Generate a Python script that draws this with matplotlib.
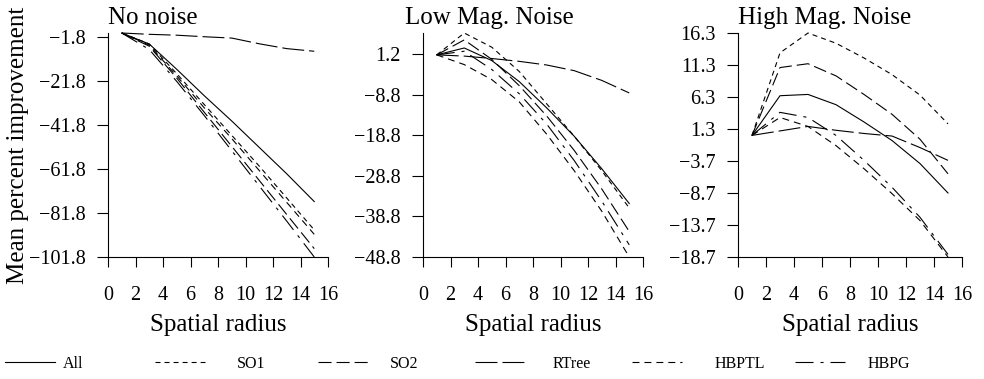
import numpy as np
import matplotlib
matplotlib.use("Agg")
import matplotlib.pyplot as plt

plt.rcParams["font.family"] = ["Liberation Serif", "DejaVu Serif"]
plt.rcParams["lines.scale_dashes"] = False

radius = [1, 3, 5, 7, 9, 11, 13, 15]
methods = ["All", "SO1", "SO2", "RTree", "HBPTL", "HBPG"]
panel_titles = ["No noise", "Low Mag. Noise", "High Mag. Noise"]
xticks = [0, 2, 4, 6, 8, 10, 12, 14, 16]

# rows follow the order of `methods`
no_noise = [
    [0, -5.0, -16.5, -28.5, -40.0, -52.0, -64.0, -76.6],
    [0, -5.0, -18.5, -32.5, -46.5, -60.5, -75.0, -89.5],
    [0, -6.0, -20.5, -36.0, -51.5, -67.0, -82.5, -98.0],
    [0, -0.6, -1.0, -1.7, -2.3, -4.9, -7.1, -8.3],
    [0, -5.5, -19.5, -34.0, -48.0, -62.5, -77.0, -91.5],
    [0, -7.5, -22.0, -37.5, -53.5, -69.5, -85.5, -101.8],
]
low_noise = [
    [1.1, 2.8, -0.3, -5.5, -12.0, -19.0, -27.0, -35.6],
    [1.1, 6.5, 3.0, -3.0, -11.0, -19.0, -27.5, -36.7],
    [1.1, 4.8, 0.0, -6.5, -14.0, -22.5, -32.0, -42.5],
    [1.1, 0.8, 0.2, -0.5, -1.4, -2.8, -5.2, -8.3],
    [1.1, -1.3, -5.0, -10.5, -18.5, -27.5, -37.5, -48.8],
    [1.1, 2.0, -2.5, -8.5, -16.0, -25.0, -35.0, -45.8],
]
high_noise = [
    [0.3, 6.5, 6.7, 5.1, 2.4, -0.5, -4.1, -8.7],
    [0.3, 13.2, 16.3, 14.7, 12.4, 9.8, 6.6, 2.1],
    [0.3, 10.9, 11.5, 9.6, 6.7, 3.6, -0.3, -5.7],
    [0.3, 1.0, 1.7, 1.1, 0.6, 0.2, -1.6, -3.6],
    [0.3, 3.1, 1.7, -1.3, -4.9, -8.8, -13.0, -18.7],
    [0.3, 3.9, 3.1, 0.3, -3.6, -7.8, -12.5, -18.3],
]
panels = [no_noise, low_noise, high_noise]
tick_steps = [20, 10, 5]

# dash patterns in points (None = solid)
styles = [None, (3.6, 2.9), (9.4, 3.6), (15.8, 3.6), (5.0, 3.6), (13.0, 5.0, 2.2, 5.0)]

W, H = 984, 379
fig = plt.figure(figsize=(W / 100, H / 100), dpi=100)

ax_px = [(108, 220), (423, 220), (738, 224)]
top_px, bot_px = 33, 257
title_dx = [0.0, -0.082, 0.0]

handles = None
for i, (data, step) in enumerate(zip(panels, tick_steps)):
    left, width = ax_px[i]
    ax = fig.add_axes([left / W, (H - bot_px) / H, width / W, (bot_px - top_px) / H])
    lines = []
    for row, dash in zip(data, styles):
        ln, = ax.plot(radius, row, color="black", lw=0.8, clip_on=False)
        if dash is not None:
            ln.set_dashes(dash)
        lines.append(ln)
    if handles is None:
        handles = lines
    arr = np.array(data)
    ymin, ymax = arr.min(), arr.max()
    ax.set_xlim(0, 16)
    ax.set_ylim(ymin, ymax)
    yt = np.arange(ymin, ymax + 1e-6, step)
    ax.set_yticks(yt)
    ax.set_yticklabels([f"{v:.1f}".replace("-", "\u2212") for v in yt])
    ax.set_xticks(xticks)
    for s in ("top", "right"):
        ax.spines[s].set_visible(False)
    for s in ("left", "bottom"):
        ax.spines[s].set_linewidth(0.8)
    ax.tick_params(axis="y", direction="out", length=8, width=0.8, pad=8, labelsize=14.5)
    ax.tick_params(axis="x", direction="out", length=7, width=0.8, pad=14, labelsize=14.5)
    ax.text(title_dx[i], 1.02, panel_titles[i], transform=ax.transAxes,
            ha="left", va="bottom", fontsize=18)
    ax.set_xlabel("Spatial radius", fontsize=18)
    ax.xaxis.set_label_coords(0.5, (bot_px - 325) / (bot_px - top_px))
    ax.xaxis.label.set_va("center")
    if i == 0:
        ax.set_ylabel("Mean percent improvement", fontsize=18)
        ax.yaxis.set_label_coords((18 - left) / width, 0.5)
        ax.yaxis.label.set_va("center")

# legend row along the bottom
line_start = [5, 155, 318, 475, 632, 795]
label_start = [63, 237, 390, 553, 715, 868]
leg_fs = 11.5
em_px = leg_fs * 100 / 72
for h, name, ls, lb in zip(handles, methods, line_start, label_start):
    fig.legend([h], [name], loc="center left", bbox_to_anchor=(ls / W, (H - 364) / H),
               frameon=False, fontsize=leg_fs, borderpad=0, borderaxespad=0,
               handlelength=50 / em_px, handletextpad=(lb - ls - 50) / em_px)

fig.savefig("out.png", dpi=100)
